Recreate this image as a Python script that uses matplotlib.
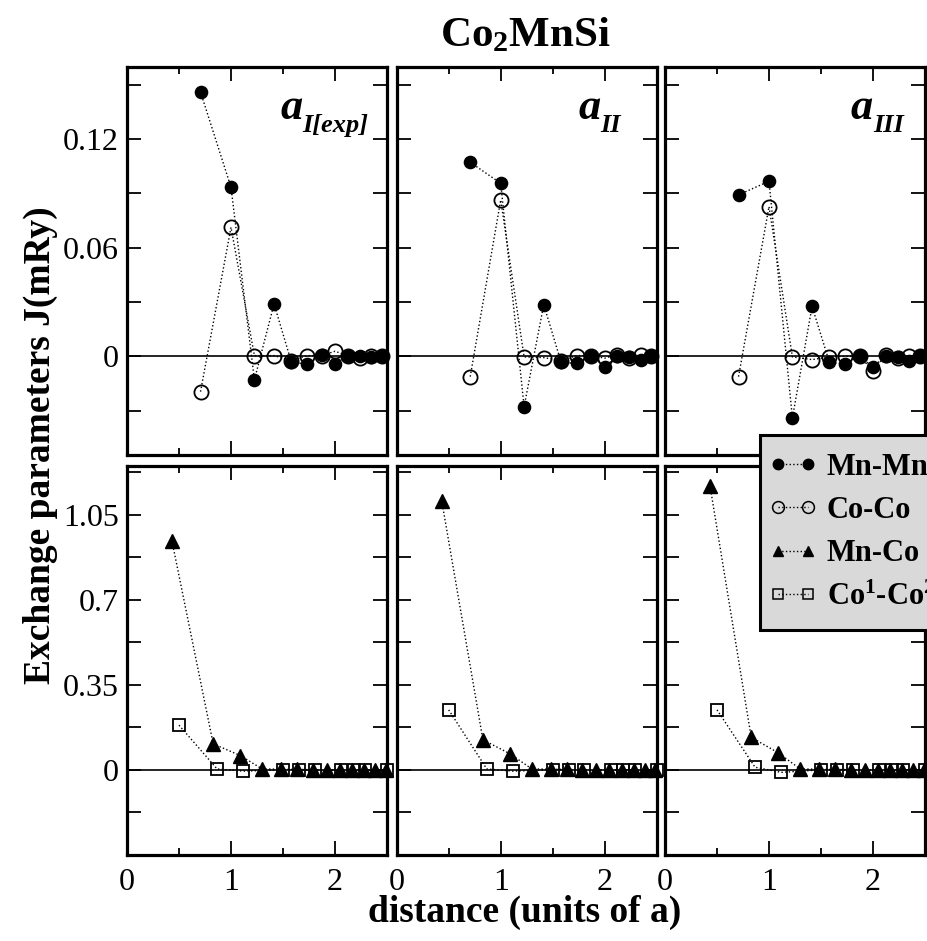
import numpy as np
import matplotlib
matplotlib.use("Agg")
import matplotlib.pyplot as plt
from matplotlib.lines import Line2D
from matplotlib.legend_handler import HandlerLine2D
from matplotlib.ticker import MultipleLocator, FixedLocator, FuncFormatter
from matplotlib.font_manager import FontProperties

plt.rcParams['font.family'] = ['Liberation Serif', 'DejaVu Serif']
plt.rcParams['mathtext.fontset'] = 'custom'
plt.rcParams['mathtext.rm'] = 'Liberation Serif'
plt.rcParams['mathtext.bf'] = 'Liberation Serif:bold'
plt.rcParams['mathtext.it'] = 'Liberation Serif:italic'

# ---- neighbour-shell distances (units of a) ----
x_same = [0.707, 1.0, 1.225, 1.414, 1.581, 1.732, 1.871, 2.0, 2.121, 2.236, 2.345, 2.449]
x_mnco = [0.433, 0.829, 1.090, 1.299, 1.479, 1.639, 1.785, 1.920, 2.046, 2.165, 2.278, 2.385, 2.487]
x_co12 = [0.5, 0.866, 1.118, 1.5, 1.658, 1.803, 2.062, 2.179, 2.291, 2.5]

panel_subs = ['I[exp]', 'II', 'III']

# ---- exchange parameters (mRy) for the three lattice constants ----
mnmn = [
    [0.146, 0.0934, -0.0130, 0.0290, -0.0033, -0.0042, 0.0010, -0.0042, 0.0004, 0.0000, -0.0003, 0.0000],
    [0.1072, 0.0956, -0.0278, 0.0286, -0.0033, -0.0039, 0.0004, -0.0057, 0.0000, -0.0003, -0.0018, 0.0000],
    [0.0892, 0.0967, -0.0341, 0.0276, -0.0033, -0.0042, 0.0004, -0.0061, 0.0004, -0.0003, -0.0024, 0.0004],
]
coco = [
    [-0.0195, 0.0713, 0.0004, 0.0004, -0.0024, 0.0004, 0.0004, 0.0028, 0.0004, -0.0007, 0.0004, 0.0000],
    [-0.0112, 0.0864, -0.0003, -0.0007, -0.0024, 0.0004, 0.0004, -0.0010, 0.0009, -0.0010, 0.0007, 0.0000],
    [-0.0112, 0.0827, -0.0003, -0.0018, -0.0003, 0.0000, 0.0000, -0.0079, 0.0007, -0.0010, 0.0004, 0.0000],
]
mnco = [
    [0.94, 0.107, 0.059, 0.004, 0.003, 0.002, 0.001, 0.001, 0.001, 0.0, 0.0, 0.0, 0.0],
    [1.107, 0.124, 0.066, 0.004, 0.003, 0.002, 0.001, 0.001, 0.001, 0.0, 0.0, 0.0, 0.0],
    [1.168, 0.134, 0.070, 0.004, 0.003, 0.002, 0.001, 0.001, 0.001, 0.0, 0.0, 0.0, 0.0],
]
co12 = [
    [0.184, 0.004, -0.005, 0.0, 0.0, -0.002, 0.0, 0.0, 0.0, 0.0],
    [0.247, 0.004, -0.005, 0.0, 0.0, -0.002, 0.0, 0.0, 0.0, 0.0],
    [0.247, 0.011, -0.010, 0.0, 0.0, -0.002, 0.0, 0.0, 0.0, 0.0],
]

top_yticks = [0, 0.06, 0.12]
bottom_yticks = [0, 0.35, 0.7, 1.05]

series_labels = ['Mn-Mn', 'Co-Co', 'Mn-Co', 'Co$^{\\mathbf{1}}$-Co$^{\\mathbf{2}}$']

W, H = 928, 941
fig = plt.figure(figsize=(W / 100, H / 100), dpi=100)

col_x0 = [127, 396.7, 665]
pw = 260
rows = [(66.7, 455), (466, 855)]

line_kw = dict(color='k', ls=':', lw=1.0, clip_on=False)

def fmt(v, pos):
    s = f"{v:.2f}".rstrip('0').rstrip('.')
    return '0' if s in ('0', '-0') else s

def style_axes(ax, bottom_row, first_col):
    for sp in ax.spines.values():
        sp.set_linewidth(2.3)
    ax.set_xlim(0, 2.5)
    ax.xaxis.set_major_locator(MultipleLocator(1))
    ax.xaxis.set_minor_locator(MultipleLocator(0.5))
    ax.tick_params(which='both', direction='in', top=True, right=True, width=1.3)
    ax.tick_params(axis='x', which='major', length=10, pad=9, labelsize=23)
    ax.tick_params(axis='x', which='minor', length=5)
    ax.tick_params(axis='y', which='both', length=10, pad=6, labelsize=23)
    ax.yaxis.set_major_formatter(FuncFormatter(fmt))
    if not bottom_row:
        ax.tick_params(axis='x', labelbottom=False)
    if not first_col:
        ax.tick_params(axis='y', labelleft=False)

for c in range(3):
    x0 = col_x0[c] / W
    # top row: Mn-Mn and Co-Co
    t, b = rows[0]
    ax = fig.add_axes([x0, 1 - b / H, pw / W, (b - t) / H])
    ax.axhline(0, color='k', lw=1.2, zorder=1)
    ax.plot(x_same, mnmn[c], marker='o', ms=8.8, mfc='k', mec='k', zorder=3, **line_kw)
    ax.plot(x_same, coco[c], marker='o', ms=10.2, mfc='none', mec='k', mew=1.3, zorder=4, **line_kw)
    ax.set_ylim(-0.0545, 0.160)
    ax.yaxis.set_major_locator(FixedLocator(top_yticks))
    ax.yaxis.set_minor_locator(FixedLocator([-0.03, 0.03, 0.09, 0.15]))
    style_axes(ax, False, c == 0)
    # panel tag a_I[exp], a_II, a_III
    ax_tag_x = [0.589, 0.698, 0.714][c]
    ax.text(ax_tag_x, 0.865, 'a', transform=ax.transAxes, fontsize=32,
            fontweight='bold', fontstyle='italic', ha='left', va='baseline')
    ax.annotate(panel_subs[c], xy=(ax_tag_x, 0.865), xycoords='axes fraction',
                xytext=(16, -9), textcoords='offset points', fontsize=19,
                fontweight='bold', fontstyle='italic', ha='left', va='baseline')

    # bottom row: Mn-Co and Co1-Co2
    t, b = rows[1]
    ax = fig.add_axes([x0, 1 - b / H, pw / W, (b - t) / H])
    ax.axhline(0, color='k', lw=1.2, zorder=1)
    ax.plot(x_mnco, mnco[c], marker='^', ms=9.5, mfc='k', mec='k', zorder=3, **line_kw)
    ax.plot(x_co12, co12[c], marker='s', ms=9.3, mfc='none', mec='k', mew=1.3, zorder=4, **line_kw)
    ax.set_ylim(-0.35, 1.25)
    ax.yaxis.set_major_locator(FixedLocator(bottom_yticks))
    ax.yaxis.set_minor_locator(FixedLocator([-0.175, 0.175, 0.525, 0.875, 1.225]))
    style_axes(ax, True, c == 0)

fig.text(525 / W, 1 - 46 / H, 'Co$_{\\mathbf{2}}$MnSi', fontsize=31, fontweight='bold',
         ha='center', va='baseline')
fig.text(525 / W, 1 - 912 / H, 'distance (units of a)', fontsize=27, fontweight='bold',
         ha='center', va='center')
fig.text(40 / W, 1 - 445 / H, 'Exchange parameters J(mRy)', fontsize=27, fontweight='bold',
         rotation=90, ha='center', va='center')

handles = [
    Line2D([], [], color='k', ls=':', lw=1.0, marker='o', ms=7.5, mfc='k', mec='k'),
    Line2D([], [], color='k', ls=':', lw=1.0, marker='o', ms=8.5, mfc='none', mec='k', mew=1.1),
    Line2D([], [], color='k', ls=':', lw=1.0, marker='^', ms=7.5, mfc='k', mec='k'),
    Line2D([], [], color='k', ls=':', lw=1.0, marker='s', ms=7.5, mfc='none', mec='k', mew=1.1),
]
leg = fig.legend(handles, series_labels, loc='upper left',
                 bbox_to_anchor=(760 / W, 1 - 435 / H), numpoints=2,
                 handler_map={Line2D: HandlerLine2D(marker_pad=0)},
                 prop=FontProperties(family='Liberation Serif', weight='bold', size=22),
                 handlelength=0.98, handletextpad=0.62, borderpad=0.58, labelspacing=0.47,
                 borderaxespad=0, frameon=True, fancybox=False, framealpha=1,
                 facecolor='#d9d9d9', edgecolor='k')
leg.get_frame().set_linewidth(2.2)
leg.set_zorder(10)

fig.savefig('out.png', dpi=100)
